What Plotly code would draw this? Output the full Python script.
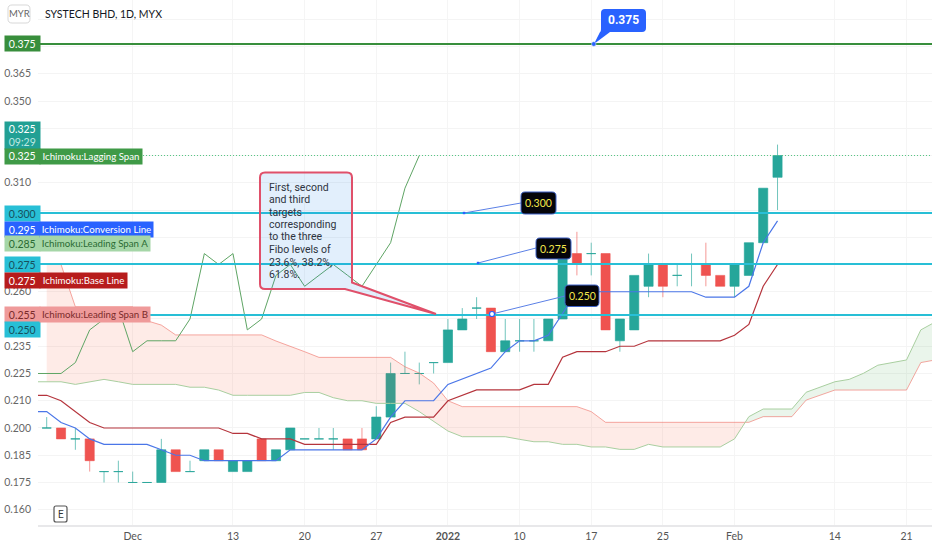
import plotly.graph_objects as go

W, H = 932, 550
PLOT_L, PLOT_B = 38, 525
FONT = "Roboto"
NARROW = "Lato"

# daily bars, x is the bar number (trading days only)
opens = [.2, .2, .195, .195, .18, .18, .175, .175, .175, .19, .18, .185, .19, .18, .18, .195, .185, .19,
         .195, .195, .195, .195, .195, .195, .205, .225, .225, .23, .23, .245, .255, .255, .235, .24, .24,
         .24, .25, .28, .28, .28, .24, .245, .265, .275, .27, .275, .275, .27, .265, .27, .285, .315]
highs = [.205, .2, .2, .195, .18, .185, .18, .175, .195, .19, .185, .19, .19, .185, .185, .195, .19, .2,
         .195, .2, .2, .195, .2, .21, .23, .235, .23, .23, .25, .255, .26, .255, .25, .25, .25,
         .25, .28, .29, .285, .28, .25, .27, .28, .275, .275, .28, .285, .27, .275, .285, .31, .33]
lows = [.2, .195, .19, .18, .175, .175, .175, .175, .175, .18, .18, .185, .185, .18, .18, .185, .185, .19,
        .195, .195, .19, .19, .19, .195, .205, .225, .22, .225, .23, .245, .25, .235, .235, .235, .235,
        .24, .25, .27, .27, .245, .235, .245, .26, .26, .265, .265, .265, .265, .26, .27, .285, .30]
closes = [.2, .195, .195, .185, .18, .18, .175, .175, .19, .18, .18, .19, .185, .185, .185, .185, .19, .2,
          .195, .195, .195, .19, .19, .205, .225, .225, .225, .23, .245, .25, .255, .235, .24, .24, .24,
          .25, .28, .275, .28, .245, .25, .27, .275, .265, .27, .275, .27, .265, .275, .285, .31, .325]

# ichimoku lines, first value is bar -1
conversion = [.2075, .2075, .2025, .2, .195, .1925, .1925, .1925, .1925, .19, .1875, .1875, .185, .185,
              .185, .185, .185, .185, .19, .19, .19, .19, .19, .19, .195, .205, .2125, .2125, .2125, .22,
              .2225, .225, .2275, .235, .24, .24, .2425, .2525, .2625, .2625, .2625, .2625, .2625, .2625,
              .2625, .2625, .2625, .26, .26, .26, .265, .285, .295]
base_line = [.215, .215, .2125, .2075, .2025, .2, .2, .2, .2, .2, .2, .2, .2, .2, .1975, .1975, .195, .195,
             .195, .1925, .1925, .1925, .1925, .1925, .1925, .2025, .205, .205, .205, .2125, .215, .2175,
             .2175, .2175, .2175, .22, .22, .2325, .235, .235, .235, .2375, .2375, .24, .24, .24, .24, .24,
             .24, .2425, .2475, .265, .275]
# cloud, span A from bar -1 and span B from bar 0, both run to bar 62
span_a = [.2212, .2212, .2212, .22, .2211, .2223, .2212, .22, .22, .22, .22, .2187, .2187, .2174, .215, .215,
          .215, .215, .215, .2163, .2163, .2139, .2125, .2125, .2113, .2113, .2113, .2075, .2029, .1986,
          .196, .196, .196, .196, .1948, .1937, .1937, .1925, .1925, .1913, .1913, .1902, .1902, .1925,
          .1913, .1913, .1913, .1913, .1913, .195, .2052, .2087, .2087, .2087, .2164, .2189, .2212, .2223,
          .2251, .2288, .23, .2312, .245, .2486]
span_b = [.275, .275, .2556, .2556, .2556, .2556, .2556, .2492, .2472, .2427, .2427, .2427, .2427, .2427,
          .2427, .2427, .2399, .2376, .235, .2324, .2324, .2324, .2324, .2324, .2324, .2281, .2252, .2206,
          .2125, .2098, .2098, .2098, .2098, .2098, .2098, .2098, .2098, .2098, .2075, .2026, .2026, .2026,
          .2026, .2026, .2026, .2026, .2026, .2026, .2026, .2026, .2052, .2052, .2052, .2128, .2151, .2174,
          .2174, .2174, .2174, .2174, .2174, .23, .2312]

target_levels = [.2986, .2752, .2518]
alert_level = .3761
last_price = .325

# labels that sit under a price tag are left empty, the tag shows them
tick_vals = [.1625, .175, .1875, .2, .2125, .225, .2375, .25, .2625, .275, .2875, .3, .3125, .325, .3375,
             .35, .3625, .375, .3875]
tick_text = ["0.160", "0.175", "0.185", "0.200", "0.210", "0.225", "0.235", "", "0.260", "",
             "", "", "0.310", "", "", "0.350", "0.365", "", ""]
date_bars = [6, 13, 18, 23, 28, 33, 38, 43, 48, 55, 60]
date_text = ["Dec", "13", "20", "27", "<b>2022</b>", "10", "17", "25", "Feb", "14", "21"]

note_text = ["First, second", "and third", "targets", "corresponding", "to the three", "Fibo levels of",
             "23.6%, 38.2%,", "61.8%."]


def xp(px):
    return (px - PLOT_L) / (W - PLOT_L)


def yp(py):
    return 1 - py / PLOT_B


def pt(px, py):
    return f"{xp(px):.5f},{yp(py):.5f}"


def round_box(x0, y0, x1, y1, r=4):
    return (f"M{pt(x0 + r, y0)} L{pt(x1 - r, y0)} Q{pt(x1, y0)} {pt(x1, y0 + r)} L{pt(x1, y1 - r)} "
            f"Q{pt(x1, y1)} {pt(x1 - r, y1)} L{pt(x0 + r, y1)} Q{pt(x0, y1)} {pt(x0, y1 - r)} "
            f"L{pt(x0, y0 + r)} Q{pt(x0, y0)} {pt(x0 + r, y0)} Z")


def label(px, py, text, family=FONT, size=11, color="#333333", xanchor="center", **kw):
    fig.add_annotation(xref="paper", yref="paper", x=xp(px), y=yp(py), text=text, showarrow=False,
                       xanchor=xanchor, yanchor="middle", font=dict(family=family, size=size, color=color), **kw)


fig = go.Figure()

# cloud, split where the two spans cross
a0 = span_a[1:]
cross = next(i for i in range(len(a0)) if i > 40 and a0[i] > span_b[i])
f = (span_b[cross - 1] - a0[cross - 1]) / ((a0[cross] - a0[cross - 1]) - (span_b[cross] - span_b[cross - 1]))
cx = cross - 1 + f
cy = a0[cross - 1] + f * (a0[cross] - a0[cross - 1])
xs = list(range(len(a0)))

fig.add_trace(go.Scatter(x=xs[:cross] + [cx], y=span_b[:cross] + [cy], mode="lines", line=dict(color="rgba(239,110,100,0.6)", width=1)))
fig.add_trace(go.Scatter(x=xs[:cross] + [cx], y=a0[:cross] + [cy], mode="lines", line=dict(width=0),
                         fill="tonexty", fillcolor="rgba(244,90,60,0.12)"))
fig.add_trace(go.Scatter(x=[cx] + xs[cross:], y=[cy] + span_b[cross:], mode="lines", line=dict(color="rgba(239,110,100,0.6)", width=1)))
fig.add_trace(go.Scatter(x=[cx] + xs[cross:], y=[cy] + a0[cross:], mode="lines", line=dict(width=0),
                         fill="tonexty", fillcolor="rgba(67,160,71,0.11)"))
fig.add_trace(go.Scatter(x=list(range(-1, len(a0))), y=span_a, mode="lines", line=dict(color="#a9cfa0", width=1)))

# lagging span is the close moved 25 bars back
fig.add_trace(go.Scatter(x=list(range(-1, 27)), y=closes[24:], mode="lines", line=dict(color="#5fa565", width=1)))
fig.add_trace(go.Scatter(x=list(range(-1, 52)), y=base_line, mode="lines", line=dict(color="#b5343c", width=1.2)))
fig.add_trace(go.Scatter(x=list(range(-1, 52)), y=conversion, mode="lines", line=dict(color="#4a76e8", width=1.2)))

n = len(closes)
bars = list(range(n))
up = [closes[i] >= opens[i] for i in bars]
for flag, edge, colour in [(True, "rgba(38,166,154,0.65)", "#26a69a"), (False, "rgba(239,83,80,0.6)", "#ef5350")]:
    fig.add_trace(go.Candlestick(
        x=bars,
        open=[opens[i] if up[i] == flag else None for i in bars],
        high=[highs[i] if up[i] == flag else None for i in bars],
        low=[lows[i] if up[i] == flag else None for i in bars],
        close=[closes[i] if up[i] == flag else None for i in bars],
        increasing=dict(line=dict(color=edge, width=1), fillcolor=colour),
        decreasing=dict(line=dict(color=edge, width=1), fillcolor=colour),
        whiskerwidth=0,
    ))

for level in target_levels:
    fig.add_hline(y=level, line=dict(color="#28bfd6", width=2))
fig.add_hline(y=alert_level, line=dict(color="#388e3c", width=2))
fig.add_hline(y=last_price, line=dict(color="#57c785", width=1, dash="1px,2px"))

# callout with the note
callout = (f"M{pt(265, 172.5)} L{pt(347, 172.5)} Q{pt(352, 172.5)} {pt(352, 177.5)} L{pt(352, 282.5)} "
           f"L{pt(436, 314)} L{pt(345, 289)} L{pt(265, 289)} Q{pt(260, 289)} {pt(260, 284)} "
           f"L{pt(260, 177.5)} Q{pt(260, 172.5)} {pt(265, 172.5)} Z")
fig.add_shape(type="path", path=callout, xref="paper", yref="paper", fillcolor="rgba(33,130,230,0.13)",
              line=dict(color="#e0506a", width=2))
for k, line in enumerate(note_text):
    label(266.5, 187 + 12.5 * k, line, size=10.5, color="#2e3440", xanchor="left")

# leader lines and the black target labels
for x0, y0, x1, y1 in [(464, 213, 521, 203), (478, 263, 536, 248), (492, 314, 565, 296)]:
    fig.add_shape(type="line", xref="paper", yref="paper", x0=xp(x0), y0=yp(y0), x1=xp(x1), y1=yp(y1),
                  line=dict(color="#5b80e6", width=1))
for x0, y0 in [(464, 213), (478, 263)]:
    fig.add_shape(type="rect", xref="paper", yref="paper", x0=xp(x0 - 1.2), x1=xp(x0 + 1.2), y0=yp(y0 - 1.2),
                  y1=yp(y0 + 1.2), fillcolor="#2962ff", line_width=0)
fig.add_shape(type="circle", xref="paper", yref="paper", x0=xp(489.5), x1=xp(494.5), y0=yp(311.5), y1=yp(316.5),
              fillcolor="white", line=dict(color="#2962ff", width=1.2))
for x0, y0, x1, y1, txt in [(521, 192, 556, 214, "0.300"), (536, 238, 571, 259, "0.275"), (565, 285, 599, 306.5, "0.250")]:
    fig.add_shape(type="path", path=round_box(x0, y0, x1, y1), xref="paper", yref="paper", fillcolor="#05050a",
                  line=dict(color="#3f62c8", width=1))
    label((x0 + x1) / 2, (y0 + y1) / 2, txt, family=NARROW, size=10.5, color="#f4e84a")

# blue alert pill on the top line
pill = (f"M{pt(605, 9)} L{pt(642, 9)} Q{pt(646, 9)} {pt(646, 13)} L{pt(646, 28)} Q{pt(646, 32)} {pt(642, 32)} "
        f"L{pt(610, 32)} L{pt(594, 44)} L{pt(600, 32)} Q{pt(601, 32)} {pt(601, 28)} L{pt(601, 13)} Q{pt(601, 9)} {pt(605, 9)} Z")
fig.add_shape(type="path", path=pill, xref="paper", yref="paper", fillcolor="#2962ff", line_width=0)
fig.add_shape(type="circle", xref="paper", yref="paper", x0=xp(591.5), x1=xp(596), y0=yp(41.7), y1=yp(46.3),
              fillcolor="#2962ff", line=dict(color="#cfd8f5", width=0.6))
label(623.5, 20.5, "<b>0.375</b>", size=12, color="white")

# MYR and E badges
fig.add_shape(type="path", path=round_box(8, 5, 30, 23), xref="paper", yref="paper", fillcolor="white",
              line=dict(color="#d8d8d8", width=1))
label(19, 14, "MYR", family=NARROW, size=9.5, color="#666666")
label(43, 14, "SYSTECH BHD, 1D, MYX", family=NARROW, size=10.5, color="#131722", xanchor="left")
fig.add_shape(type="path", path=round_box(54, 506, 67, 522, 2), xref="paper", yref="paper", fillcolor="white",
              line=dict(color="#555555", width=1.2))
label(60.5, 514, "E", size=10)

# price scale tags
scale_tags = [
    (44, 15, "0.375", "#388e3c", "white"),
    (135.5, 27, "0.325<br><span style='color:#bfe8e2'>09:29</span>", "#22a094", "white"),
    (156, 14.5, "0.325", "#3f9a47", "white"),
    (213.5, 15, "0.300", "#28bfd6", "#17505c"),
    (229, 15, "0.295", "#2962ff", "white"),
    (244, 15, "0.285", "#a5d6a7", "#2a6a33"),
    (264.5, 15, "0.275", "#28bfd6", "#17505c"),
    (280, 15, "0.275", "#b71c1c", "white"),
    (314, 15, "0.255", "#ef9a9a", "#7a2a2a"),
    (329, 15, "0.250", "#28bfd6", "#17505c"),
]
for py, h, txt, bg, fg in scale_tags:
    label(3.5, py, txt, family=NARROW, size=10.5, color=fg, xanchor="left", width=34.5, height=h, bgcolor=bg,
          borderpad=0, align="center")

series_tags = [
    (156, 102, "Ichimoku:Lagging Span", "#3f9a47", "white"),
    (229, 113, "Ichimoku:Conversion Line", "#2962ff", "white"),
    (244, 110, "Ichimoku:Leading Span A", "#a5d6a7", "#2a6a33"),
    (280, 87, "Ichimoku:Base Line", "#b71c1c", "white"),
    (314, 110, "Ichimoku:Leading Span B", "#ef9a9a", "#7a2a2a"),
]
for py, w, txt, bg, fg in series_tags:
    label(39, py, txt, family=NARROW, size=9.7, color=fg, xanchor="left", width=w, height=14.5, bgcolor=bg,
          borderpad=0, align="center")

fig.update_layout(
    width=W,
    height=H,
    margin=dict(l=PLOT_L, r=0, t=0, b=H - PLOT_B),
    paper_bgcolor="white",
    plot_bgcolor="white",
    showlegend=False,
    boxgap=0.09,
    font=dict(family=NARROW, size=10.5, color="#555555"),
    xaxis=dict(
        range=[-0.607, 61.78],
        rangeslider_visible=False,
        tickmode="array",
        tickvals=date_bars,
        ticktext=date_text,
        showgrid=True,
        gridcolor="#f5f5f5",
        zeroline=False,
        showline=True,
        linecolor="#e8e8ea",
        linewidth=2,
        ticks="",
    ),
    yaxis=dict(
        range=[.1555, .39633],
        tickmode="array",
        tickvals=tick_vals,
        ticktext=tick_text,
        showgrid=True,
        gridcolor="#f4f4f4",
        zeroline=False,
        ticks="",
        ticklabelstandoff=6,
        tickfont=dict(color="#666666"),
    ),
)

fig.write_html("out.html", config=dict(displayModeBar=False), post_script="document.body.style.margin='0';")
